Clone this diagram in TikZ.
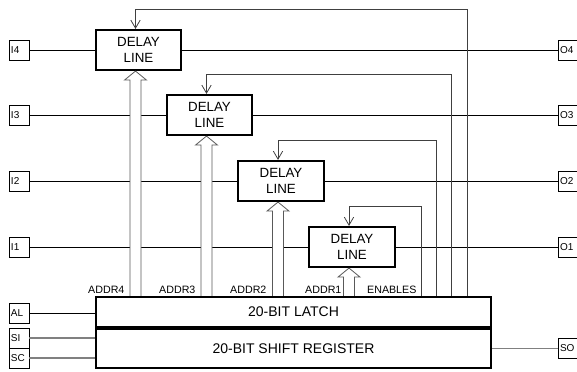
\documentclass[tikz,border=0pt]{standalone}
\usepackage{fontspec}
\setmainfont{Liberation Sans}
\usetikzlibrary{arrows.meta,calc,positioning}

\begin{document}
\begin{tikzpicture}[
    x=0.75pt,y=-0.75pt,
    delai/.style  = {rectangle,draw,line width=1.6pt,align=center,
                     font=\fontsize{10}{11.5}\selectfont,
                     minimum width=64pt,minimum height=30pt,inner sep=0pt},
    bloc/.style   = {rectangle,draw,line width=1.6pt,
                     font=\fontsize{10.5}{12}\selectfont,
                     minimum width=296pt,inner sep=0pt},
    broche/.style = {rectangle,draw,line width=0.5pt,align=left,
                     font=\fontsize{7.5}{8}\selectfont,
                     text width=12pt,minimum height=15pt,inner xsep=1.5pt,inner ysep=0pt},
    etiq/.style   = {font=\fontsize{8}{9}\selectfont,anchor=south east,
                     inner xsep=1pt,inner ysep=1.5pt},
    fil/.style    = {line width=0.6pt},
    gris/.style   = {black!50,line width=0.9pt},
    retour/.style = {black!75,line width=0.6pt,-{Straight Barb[length=6pt,width=7pt]}},
    creux/.style  = {black!65,line width=0.6pt,fill=white},
  ]

  \useasboundingbox (0,0) rectangle (577,371);

  % ── Verrou et registre à décalage ─────────────────────────────────────────
  \node[bloc,minimum height=22.5pt] (latch) at (293.5,312)   {20-BIT LATCH};
  \node[bloc,minimum height=29.6pt] (sr)    at (293.5,348.5) {20-BIT SHIFT REGISTER};

  \node[broche] (al) at (19,313) {AL};
  \node[broche] (si) at (19,338) {SI};
  \node[broche] (sc) at (19,358) {SC};
  \node[broche] (so) at (568,348.5) {SO};

  \draw[fil]  (al) -- (al -| latch.west);
  \draw[gris] (si) -- (si -| sr.west);
  \draw[gris] (sc) -- (sc -| sr.west);
  \draw[gris] (so -| sr.east) -- (so);

  % ── Lignes à retard, entrées et sorties ───────────────────────────────────
  \foreach \n/\x/\y/\v in {4/138.5/50/467, 3/209.5/115/451, 2/281/181/436, 1/352/247/421}{
    \node[delai]  (d\n) at (\x,\y)  {DELAY\\LINE};
    \node[broche] (i\n) at (19,\y)  {I\n};
    \node[broche] (o\n) at (568,\y) {O\n};
    \draw[fil] (i\n) -- (d\n);
    \draw[fil] (d\n) -- (o\n);
    \coordinate (q\n) at ($(d\n.north)+(-3,0)$);
    \coordinate (r\n) at (\v,\y-41);
  }

  % ── Retours depuis le verrou ──────────────────────────────────────────────
  \foreach \n in {1,...,4}
    \draw[retour] (latch.north -| r\n) -- (r\n) -| (q\n);

  % ── Bus d'adresse (flèches creuses) ───────────────────────────────────────
  \foreach \n in {1,...,4}
    \draw[creux] ($(q\n |- latch.north)+(-5.5,0)$) -- ($(q\n |- d\n.south)+(-5.5,9)$)
      -- ($(q\n |- d\n.south)+(-11,9)$) -- (q\n |- d\n.south)
      -- ($(q\n |- d\n.south)+(11,9)$) -- ($(q\n |- d\n.south)+(5.5,9)$)
      -- ($(q\n |- latch.north)+(5.5,0)$);

  \node[etiq] (a4) at (126,296) {ADDR4};
  \node[etiq] (a3) at (197,296) {ADDR3};
  \node[etiq] (a2) at (268,296) {ADDR2};
  \node[etiq] (a1) at (343,296) {ADDR1};
  \node[etiq] (en) at (418,296) {ENABLES};

\end{tikzpicture}
\end{document}
